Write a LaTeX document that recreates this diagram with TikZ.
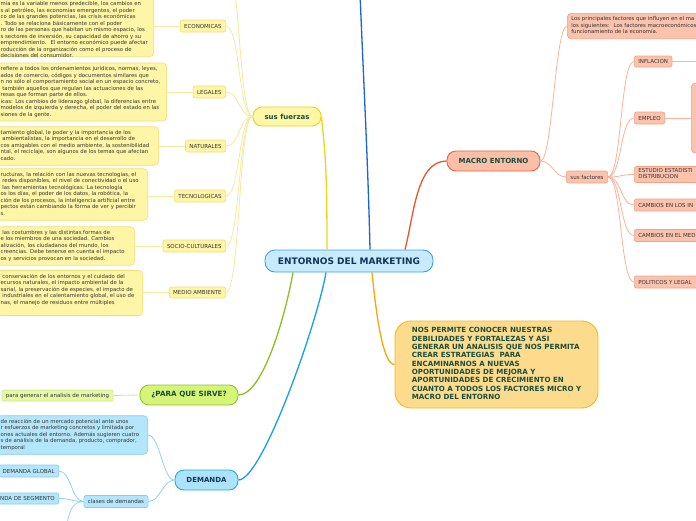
\documentclass[tikz,border=0pt]{standalone}
\usepackage{fontspec}
\setmainfont{DejaVu Sans}
\usetikzlibrary{calc}
\newcommand\cuttext[2]{\makebox[#1][l]{\begin{tabular}{@{}l@{}}#2\end{tabular}}}
\definecolor{txt}{HTML}{333333}
\definecolor{dgreen}{HTML}{1B4D3E}
\definecolor{navy}{HTML}{12355B}
\definecolor{yfill}{HTML}{FFF5A6}
\definecolor{yline}{HTML}{F3DE74}
\definecolor{yconn}{HTML}{F6EA9A}
\definecolor{sfFill}{HTML}{FFF6A8}
\definecolor{sfLine}{HTML}{F0D30F}
\definecolor{yMain}{HTML}{F1D31B}
\definecolor{cFill}{HTML}{C8EBFB}
\definecolor{cLine}{HTML}{3CA3DF}
\definecolor{topBlue}{HTML}{1D63D6}
\definecolor{mFill}{HTML}{FBBEA7}
\definecolor{mLine}{HTML}{E8653D}
\definecolor{mMain}{HTML}{E9552B}
\definecolor{sFill}{HTML}{FBC3AD}
\definecolor{sLine}{HTML}{F6A283}
\definecolor{sConn}{HTML}{F9B397}
\definecolor{oFill}{HTML}{FDDB8C}
\definecolor{oLine}{HTML}{F5B91E}
\definecolor{oMain}{HTML}{F6A900}
\definecolor{gFill}{HTML}{D6F577}
\definecolor{gLine}{HTML}{8EC13B}
\definecolor{gMain}{HTML}{8DBE1F}
\definecolor{g2Fill}{HTML}{E5F8A6}
\definecolor{g2Line}{HTML}{CCE88A}
\definecolor{bFill}{HTML}{ADE3FA}
\definecolor{bLine}{HTML}{2AA6E6}
\definecolor{bMain}{HTML}{15A0EA}
\definecolor{b2Fill}{HTML}{B4E6FB}
\definecolor{b2Line}{HTML}{85CCF0}
\definecolor{bConn}{HTML}{8DD2F3}
\tikzset{
  lbranch/.style={to path={.. controls ($(\tikztostart)+(-#1,0)$) and ($(\tikztotarget)+(#1,0)$) .. (\tikztotarget)}},
  lbranch/.default=14,
  rbranch/.style={to path={.. controls ($(\tikztostart)+(#1,0)$) and ($(\tikztotarget)+(-#1,0)$) .. (\tikztotarget)}},
  rbranch/.default=14,
  smallfont/.style={font=\fontsize{5.35}{6.5}\selectfont, text=txt},
  labfont/.style={font=\fontsize{5.5}{6.5}\selectfont, text=txt},
  lab/.style={line width=0.6pt, rounded corners=2pt, inner xsep=4pt, inner ysep=0pt, minimum height=12pt, labfont},
  tbox/.style={line width=0.6pt, rounded corners=4pt, inner xsep=4pt, inner ysep=3pt, smallfont},
  head/.style={line width=0.9pt, rounded corners=9pt, minimum height=20pt, inner sep=0pt, font=\bfseries\fontsize{7}{8.3}\selectfont, text=dgreen},
  ycol/.style={draw=yline, fill=yfill},
  scol/.style={draw=sLine, fill=sFill},
  g2col/.style={draw=g2Line, fill=g2Fill},
  b2col/.style={draw=b2Line, fill=b2Fill},
  yc/.style={draw=yconn, line width=0.8pt},
  sc/.style={draw=sConn, line width=0.8pt},
  gc/.style={draw=g2Line, line width=0.8pt},
  bc/.style={draw=bConn, line width=0.8pt},
  mainline/.style={line width=1.3pt},
}
\begin{document}
\begin{tikzpicture}[x=1pt,y=-1pt]
\useasboundingbox (0,0) rectangle (696,520);
\fill[white] (0,0) rectangle (696,520);
\clip (0,0) rectangle (696,520);

% ---------- central ----------
\node[draw=cLine, fill=cFill, line width=0.9pt, rounded corners=10pt, minimum width=168pt, minimum height=22pt, inner sep=0pt, font=\bfseries\fontsize{9}{11}\selectfont, text=navy] (c) at (349,261) {ENTORNOS DEL MARKETING};

% ---------- sus fuerzas ----------
\node[head, draw=sfLine, fill=sfFill, minimum width=68pt, minimum height=19pt] (sf) at (287,116.5) {sus fuerzas};
\node[lab, ycol, anchor=east] (eco) at (226,26) {ECONOMICAS};
\node[lab, ycol, anchor=east] (leg) at (226,92) {LEGALES};
\node[lab, ycol, anchor=east] (nat) at (226,146) {NATURALES};
\node[lab, ycol, anchor=east] (tec) at (226,196) {TECNOLOGICAS};
\node[lab, ycol, anchor=east] (soc) at (226,246) {SOCIO-CULTURALES};
\node[lab, ycol, anchor=east, minimum height=11pt] (med) at (226,292.5) {MEDIO AMBIENTE};
\coordinate (ytop) at (226,-40);

\node[tbox, ycol, anchor=south east, inner ysep=0.5pt] (e1) at (154,57) {\raisebox{-3.5pt}[\height][\depth]{\cuttext{149pt}{%
mía es la variable menos predecible, los cambios en\\
s al petróleo, las economías emergentes, el poder\\
co de las grandes potencias, las crisis económicas\\
. Todo se relaciona básicamente con el poder\\
ro de las personas que habitan un mismo espacio, los\\
s sectores de inversión, su capacidad de ahorro y su\\
emprendimiento.~ El entorno económico puede afectar\\
roducción de la organización como el proceso de\\
decisiones del consumidor.}}};

\node[tbox, ycol, anchor=east] (e2) at (167,92) {\cuttext{162pt}{%
refiere a todos los ordenamientos jurídicos, normas, leyes,\\
ados de comercio, códigos y documentos similares que\\
n no sólo el comportamiento social en un espacio concreto,\\
~también aquellos que regulan las actuaciones de las\\
resas que forman parte de ellos.\\
icas: Los cambios de liderazgo global, la diferencias entre\\
modelos de izquierda y derecha, el poder del estado en las\\
siones de la gente.}};

\node[tbox, ycol, anchor=east] (e3) at (159,146) {\cuttext{154pt}{%
tamiento global, le poder y la importancia de los\\
~ambientalistas, la importancia en el desarrollo de\\
cos amigables con el medio ambiente, la sostenibilidad\\
ntal, el reciclaje, son algunos de los temas que afectan\\
cado.}};

\node[tbox, ycol, anchor=east] (e4) at (148,194.5) {\cuttext{143pt}{%
ructuras, la relación con las nuevas tecnologías, el\\
~redes disponibles, el nivel de conectividad o el uso\\
~las herramientas tecnológicas. La tecnología\\
os los días, el poder de los datos, la robótica, la\\
ción de los procesos, la inteligencia artificial entre\\
pectos están cambiando la forma de ver y percibir\\
s.}};

\node[tbox, ycol, anchor=east] (e5) at (135,246) {\cuttext{130pt}{%
~las costumbres y las distintas formas de\\
e los miembros de una sociedad. Cambios\\
alización, los ciudadanos del mundo, los\\
creencias. Debe tenerse en cuenta el impacto\\
os y servicios provocan en la sociedad.}};

\node[tbox, ycol, anchor=east] (e6) at (143,293) {\cuttext{138pt}{%
~conservación de los entornos y el cuidado del\\
ecursos naturales, el impacto ambiental de la\\
sarial, la preservación de especies, el impacto de\\
~industriales en el calentamiento global, el uso de\\
nas, el manejo de residuos entre múltiples\\
~}};

% ---------- macro entorno ----------
\node[head, draw=mLine, fill=mFill, minimum width=93pt] (m) at (493.5,161) {MACRO ENTORNO};
\node[tbox, scol, anchor=north west] (mt) at (567,13) {\cuttext{200pt}{%
Los principales factores que influyen en el ma\\
los siguientes:~ Los factores macroeconómicos\\
funcionamiento de la economía.}};
\node[lab, scol] (sfac) at (587,177) {sus factores};
\node[lab, scol, anchor=west, minimum height=11pt] (inf) at (634,61.5) {INFLACION};
\node[lab, scol, anchor=west] (emp) at (634,118) {EMPLEO};
\node[lab, scol, anchor=west, inner ysep=2pt, font=\fontsize{5.5}{6}\selectfont] (est) at (634,174.5) {\cuttext{70pt}{ESTUDIO ESTADISTI\\DISTRIBUCION}};
\node[lab, scol, anchor=west] (cli) at (634,205) {\makebox[70pt][l]{CAMBIOS EN LOS IN}};
\node[lab, scol, anchor=west] (cme) at (634,235.5) {\makebox[70pt][l]{CAMBIOS EN EL MED}};
\node[lab, scol, anchor=west] (pol) at (634,282) {\makebox[70pt][l]{POLITICOS Y LEGAL}};
\node[tbox, scol, anchor=west, minimum width=40pt, minimum height=70pt] (empt) at (691,118) {};
\coordinate (infx) at (710,61.5);

% ---------- nos permite ----------
\node[draw=oLine, fill=oFill, line width=0.9pt, rounded corners=16pt, minimum width=203pt, minimum height=87pt, inner sep=0pt, font=\bfseries\fontsize{7.1}{8.3}\selectfont, text=dgreen] (nos) at (496.5,364.5) {\begin{tabular}{@{}l@{}}
NOS PERMITE CONOCER NUESTRAS\\
DEBILIDADES Y FORTALEZAS Y ASI\\
GENERAR UN ANALISIS QUE NOS PERMITA\\
CREAR ESTRATEGIAS~ PARA\\
ENCAMINARNOS A NUEVAS\\
OPORTUNIDADES DE MEJORA Y\\
APORTUNIDADES DE CRECIMIENTO EN\\
CUANTO A TODOS LOS FACTORES MICRO Y\\
MACRO DEL ENTORNO\end{tabular}};

% ---------- para que sirve ----------
\node[head, draw=gLine, fill=gFill, minimum width=98pt, font=\bfseries\fontsize{7.2}{8.3}\selectfont] (q) at (189,395) {¿PARA QUE SIRVE?};
\node[lab, g2col, minimum height=11pt] (pg) at (57.5,395.5) {para generar el analisis de marketing};

% ---------- demanda ----------
\node[head, draw=bLine, fill=bFill, minimum width=63pt, text=navy] (d) at (206.5,480) {DEMANDA};
\node[tbox, b2col, anchor=east] (dt) at (148,435) {\cuttext{143pt}{%
de reacción de un mercado potencial ante unos\\
r esfuerzos de marketing concretos y limitada por\\
ones actuales del entorno. Además sugieren cuatro\\
s de análisis de la demanda, producto, comprador,\\
temporal}};
\node[lab, b2col] (cl) at (116,501.5) {clases de demandas};
\node[lab, b2col, anchor=east] (dg) at (59,471) {DEMANDA GLOBAL};
\node[lab, b2col, anchor=east, minimum height=11pt] (ds) at (59,498.5) {\makebox[55pt][r]{NDA DE SEGMENTO}};
\coordinate (dx) at (66,530);
\coordinate (ttop) at (359.5,-20);

% ---------- connectors ----------
\draw[yc] (sf.west) to[lbranch] (eco.east);
\draw[yc] (sf.west) to[lbranch] (leg.east);
\draw[yc] (sf.west) to[lbranch] (nat.east);
\draw[yc] (sf.west) to[lbranch] (tec.east);
\draw[yc] (sf.west) to[lbranch] (soc.east);
\draw[yc] (sf.west) to[lbranch] (med.east);
\draw[yc] (sf.west) to[lbranch] (ytop);
\draw[yc] (eco.west) -- (eco.west -| e1.east);
\draw[yc] (leg.west) -- (leg.west -| e2.east);
\draw[yc] (nat.west) -- (nat.west -| e3.east);
\draw[yc] (tec.west) -- (tec.west -| e4.east);
\draw[yc] (soc.west) -- (soc.west -| e5.east);
\draw[yc] (med.west) -- (med.west -| e6.east);

\draw[sc] (m.east) to[rbranch=12] (mt.west);
\draw[sc] (m.east) to[rbranch=12] (sfac.west);
\draw[sc] (sfac.east) to[rbranch] (inf.west);
\draw[sc] (sfac.east) to[rbranch] (emp.west);
\draw[sc] (sfac.east) to[rbranch] (est.west);
\draw[sc] (sfac.east) to[rbranch] (cli.west);
\draw[sc] (sfac.east) to[rbranch] (cme.west);
\draw[sc] (sfac.east) to[rbranch] (pol.west);
\draw[sc] (inf.east) -- (infx);
\draw[sc] (emp.east) -- (emp.east -| empt.west);

\draw[gc] (q.west) -- (pg.east);

\draw[bc] (d.west) to[lbranch=12] (dt.east);
\draw[bc] (d.west) to[lbranch=12] (cl.east);
\draw[bc] (cl.west) to[lbranch=12] (dg.east);
\draw[bc] (cl.west) to[lbranch=12] (ds.east);
\draw[bc] (cl.west) .. controls ($(cl.west)+(-12,0)$) and ($(dx)+(3,-18)$) .. (dx);

% main branches
\draw[mainline, draw=yMain] ([xshift=-22pt]c.north) .. controls ($([xshift=-22pt]c.north)+(0,-80)$) and ($(sf.east)+(4,40)$) .. (sf.east);
\draw[mainline, draw=topBlue] ([xshift=21pt]c.north) .. controls ($([xshift=21pt]c.north)+(-2,-90)$) and ($(ttop)+(3,80)$) .. (ttop);
\draw[mainline, draw=mMain] ([xshift=56pt]c.north) .. controls ($([xshift=56pt]c.north)+(9,-35)$) and ($(m.west)+(-30,0)$) .. (m.west);
\draw[mainline, draw=oMain] ([xshift=23pt]c.south) .. controls ($([xshift=23pt]c.south)+(4,40)$) and ($(nos.west)+(-12,0)$) .. (nos.west);
\draw[mainline, draw=gMain] ([xshift=-56pt]c.south) .. controls ($([xshift=-56pt]c.south)+(-7,40)$) and ($(q.east)+(25,0)$) .. (q.east);
\draw[mainline, draw=bMain] ([xshift=-23pt]c.south) .. controls ($([xshift=-23pt]c.south)+(-8,48)$) and ($(d.east)+(24,0)$) .. (d.east);
\end{tikzpicture}
\end{document}
